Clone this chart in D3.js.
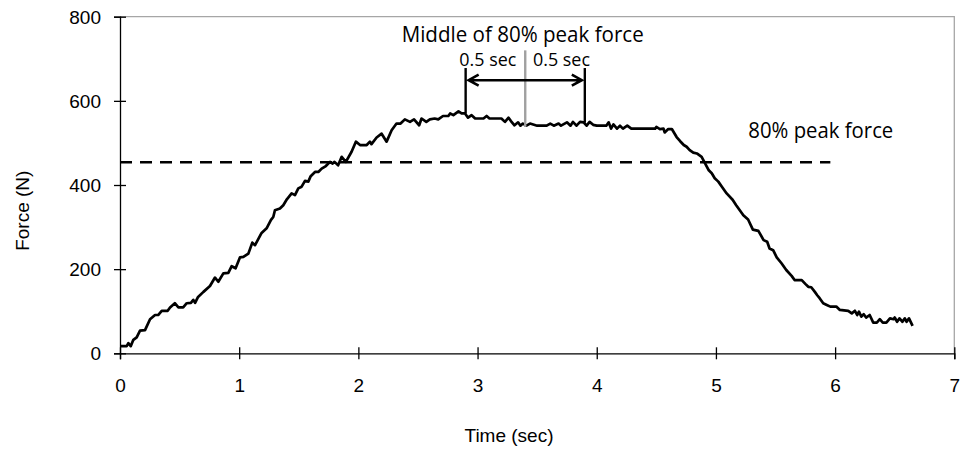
<!DOCTYPE html>
<html>
<head>
<meta charset="utf-8">
<script src="https://cdn.jsdelivr.net/npm/d3@7"></script>
<style>
  body { margin: 0; background: #fff; }
  #chart { width: 961px; height: 449px; }
  .tick text { font-family: "Liberation Sans", Arial, sans-serif; font-size: 19px; fill: #000; }
  .note { font-family: "Open Sans", sans-serif; fill: #000; }
</style>
</head>
<body>
<div id="chart"></div>
<script>
// force trace
var timeSec = [0,0.056,0.07,0.09,0.112,0.14,0.168,0.21,0.252,0.294,0.32,0.35,0.40,0.42,0.46,0.49,0.53,0.56,0.595,0.615,0.63,0.655,0.70,0.755,0.797,0.825,0.867,0.909,0.937,0.97,1.007,1.035,1.077,1.11,1.133,1.188,1.23,1.267,1.286,1.30,1.342,1.37,1.40,1.44,1.468,1.496,1.524,1.552,1.58,1.60,1.636,1.664,1.692,1.727,1.762,1.784,1.80,1.83,1.86,1.895,1.943,1.979,2.014,2.07,2.097,2.11,2.153,2.195,2.237,2.279,2.32,2.354,2.39,2.433,2.467,2.51,2.53,2.57,2.60,2.64,2.67,2.71,2.755,2.77,2.797,2.84,2.866,2.895,2.92,2.95,2.98,3.05,3.076,3.10,3.20,3.23,3.26,3.28,3.31,3.34,3.36,3.38,3.41,3.44,3.50,3.58,3.61,3.64,3.68,3.70,3.75,3.78,3.80,3.83,3.86,3.89,3.915,3.94,3.97,4.0,4.08,4.10,4.12,4.14,4.17,4.195,4.22,4.256,4.29,4.49,4.50,4.53,4.56,4.57,4.60,4.63,4.67,4.70,4.73,4.754,4.78,4.81,4.84,4.88,4.91,4.94,4.965,4.99,5.02,5.05,5.09,5.14,5.17,5.20,5.23,5.27,5.31,5.356,5.40,5.43,5.45,5.48,5.51,5.55,5.59,5.635,5.66,5.72,5.75,5.775,5.80,5.83,5.85,5.87,5.90,5.93,5.96,6.01,6.04,6.11,6.14,6.166,6.186,6.20,6.22,6.24,6.26,6.29,6.32,6.35,6.375,6.40,6.43,6.46,6.49,6.50,6.52,6.54,6.565,6.585,6.60,6.62,6.65];
var forceN = [17,17,24,17,32,38,54,55,81,91,91,101,101,109,119,109,109,119,120,127,120,134,146,160,180,170,190,191,207,202,228,229,237,263,257,286,297,317,324,340,344,352,366,380,376,392,396,410,408,421,431,431,439,445,455,451,455,447,467,455,479,503,495,495,503,497,513,522,503,530,546,546,556,550,556,542,558,550,556,558,556,564,564,570,566,575,570,570,560,566,558,558,564,558,558,550,560,552,542,549,541,546,541,546,541,541,546,541,546,541,549,541,550,541,550,549,541,550,543,541,541,549,534,544,534,541,534,541,534,534,538,533,534,525,533,533,514,504,495,491,483,477,475,467,451,435,428,416,408,396,380,365,352,340,328,318,294,291,269,265,249,245,228,214,198,184,174,174,165,158,157,146,138,131,119,115,111,111,103,101,95,101,91,99,87,93,85,91,73,73,81,73,73,83,81,85,75,83,75,83,75,83,65];

var xTicks = [0, 1, 2, 3, 4, 5, 6, 7];
var yTicks = [0, 200, 400, 600, 800];

// 80% peak force level and the +/- 0.5 sec window around its middle
var peak80 = 454;
var peak80End = 5.96;
var midTime = 3.4;
var halfWindow = 0.5;

var margin = {top: 16.7, right: 6.7, bottom: 95.7, left: 120},
    width = 961 - margin.left - margin.right,
    height = 449 - margin.top - margin.bottom;

var svg = d3.select("#chart")
  .append("svg")
    .attr("width", 961)
    .attr("height", 449)
  .append("g")
    .attr("transform", "translate(" + margin.left + "," + margin.top + ")");

var x = d3.scaleLinear().domain([0, 7]).range([0, width]);
var y = d3.scaleLinear().domain([0, 800]).range([height, 0]);

// grey frame on top and right
svg.append("path")
  .attr("d", "M0,0H" + width + "V" + height)
  .attr("fill", "none")
  .attr("stroke", "#a6a6a6")
  .attr("stroke-width", 1.3);

// X axis, ticks crossing the line
var gx = svg.append("g")
  .attr("transform", "translate(0," + height + ")")
  .call(d3.axisBottom(x).tickValues(xTicks).tickFormat(d3.format("d")));
gx.select(".domain").attr("stroke", "#000").attr("stroke-width", 1.3);
gx.selectAll(".tick line").attr("y1", -6).attr("y2", 6).attr("stroke-width", 1.3);
gx.selectAll(".tick text").attr("y", 39).attr("dy", 0);

// Y axis
var gy = svg.append("g")
  .call(d3.axisLeft(y).tickValues(yTicks).tickFormat(d3.format("d")));
gy.select(".domain").attr("stroke", "#000").attr("stroke-width", 1.3);
gy.selectAll(".tick line").attr("x1", -6).attr("x2", 6).attr("stroke-width", 1.3);
gy.selectAll(".tick text").attr("x", -19).attr("dy", "0.35em");

// axis titles
svg.append("text")
  .attr("text-anchor", "middle")
  .attr("x", 389)
  .attr("y", 425)
  .style("font-family", "Liberation Sans, Arial, sans-serif")
  .style("font-size", "19px")
  .text("Time (sec)");

svg.append("text")
  .attr("text-anchor", "middle")
  .attr("transform", "rotate(-90)")
  .attr("x", -194)
  .attr("y", -91)
  .style("font-family", "Liberation Sans, Arial, sans-serif")
  .style("font-size", "19px")
  .text("Force (N)");

// 80% peak force dashed line
svg.append("line")
  .attr("x1", x(0)).attr("x2", x(peak80End))
  .attr("y1", y(peak80)).attr("y2", y(peak80))
  .attr("stroke", "#000")
  .attr("stroke-width", 2.6)
  .attr("stroke-dasharray", "12,8");

// force trace
var line = d3.line()
  .x(function(d, i) { return x(timeSec[i]); })
  .y(function(d) { return y(d); });

svg.append("path")
  .datum(forceN)
  .attr("d", line)
  .attr("fill", "none")
  .attr("stroke", "#000")
  .attr("stroke-width", 2.7)
  .attr("stroke-linejoin", "round");

// window markers
svg.append("line")
  .attr("x1", x(midTime)).attr("x2", x(midTime))
  .attr("y1", y(720)).attr("y2", y(538))
  .attr("stroke", "#a0a0a0")
  .attr("stroke-width", 2.4);

svg.append("line")
  .attr("x1", x(midTime - halfWindow)).attr("x2", x(midTime - halfWindow))
  .attr("y1", y(678)).attr("y2", y(570))
  .attr("stroke", "#000")
  .attr("stroke-width", 2.4);

svg.append("line")
  .attr("x1", x(midTime + halfWindow)).attr("x2", x(midTime + halfWindow))
  .attr("y1", y(678)).attr("y2", y(548))
  .attr("stroke", "#000")
  .attr("stroke-width", 2.4);

// double-headed arrow
var ax0 = x(midTime - halfWindow) + 3,
    ax1 = x(midTime + halfWindow) - 3,
    ay = y(649);
svg.append("path")
  .attr("d", "M" + ax0 + "," + ay + "H" + ax1 +
             "M" + (ax0 + 10) + "," + (ay - 5.5) + "L" + ax0 + "," + ay + "L" + (ax0 + 10) + "," + (ay + 5.5) +
             "M" + (ax1 - 10) + "," + (ay - 5.5) + "L" + ax1 + "," + ay + "L" + (ax1 - 10) + "," + (ay + 5.5))
  .attr("fill", "none")
  .attr("stroke", "#000")
  .attr("stroke-width", 2.6);

// annotation texts
svg.append("text")
  .attr("class", "note")
  .attr("x", 281.7).attr("y", 25)
  .attr("textLength", 242).attr("lengthAdjust", "spacingAndGlyphs")
  .style("font-size", "21px")
  .text("Middle of 80% peak force");

svg.append("text")
  .attr("class", "note")
  .attr("x", 339.3).attr("y", 49)
  .attr("textLength", 57).attr("lengthAdjust", "spacingAndGlyphs")
  .style("font-size", "18px")
  .text("0.5 sec");

svg.append("text")
  .attr("class", "note")
  .attr("x", 413).attr("y", 49)
  .attr("textLength", 57).attr("lengthAdjust", "spacingAndGlyphs")
  .style("font-size", "18px")
  .text("0.5 sec");

svg.append("text")
  .attr("class", "note")
  .attr("x", 628.3).attr("y", 121.6)
  .attr("textLength", 145).attr("lengthAdjust", "spacingAndGlyphs")
  .style("font-size", "21px")
  .text("80% peak force");
</script>
</body>
</html>
